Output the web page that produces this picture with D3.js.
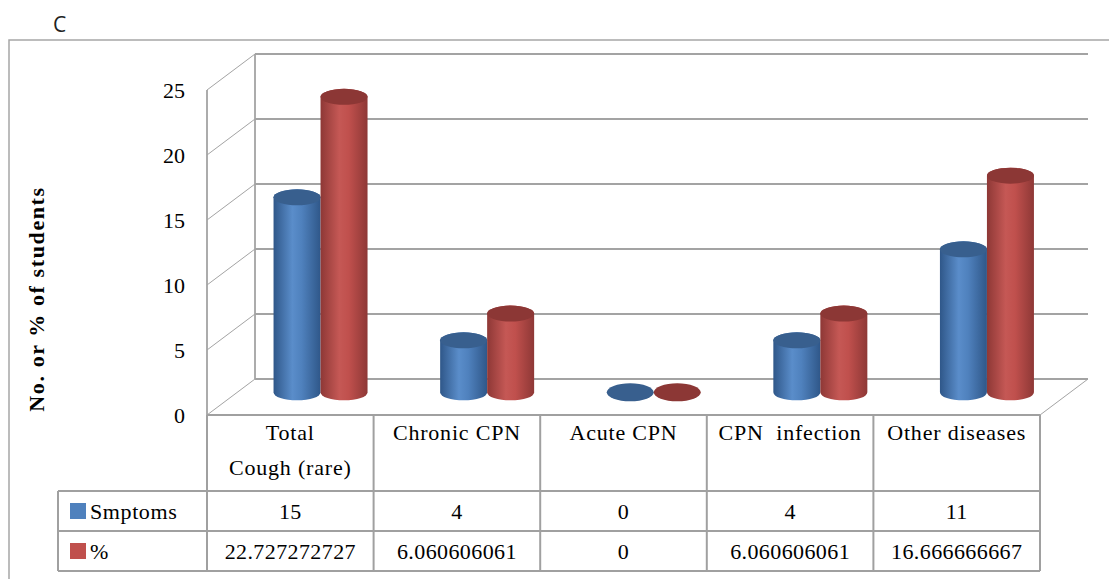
<!DOCTYPE html>
<html>
<head>
<meta charset="utf-8">
<script src="https://cdn.jsdelivr.net/npm/d3@7"></script>
<style>
  html, body { margin: 0; padding: 0; background: #fff; }
  svg { display: block; }
  .serif { font-family: "Liberation Serif", "Times New Roman", serif; fill: #000; }
</style>
</head>
<body>
<svg id="chart" width="1109" height="579"></svg>
<script>
// ---- data ----
const categories = ["Total Cough (rare)", "Chronic CPN", "Acute CPN", "CPN  infection", "Other diseases"];
const categoryLines = [["Total", "Cough (rare)"], ["Chronic CPN"], ["Acute CPN"], ["CPN  infection"], ["Other diseases"]];
const seriesNames = ["Smptoms", "%"];
const symptoms = [15, 4, 0, 4, 11];
const percent = [22.727272727, 6.060606061, 0, 6.060606061, 16.666666667];
const yTicks = [0, 5, 10, 15, 20, 25];
const yTitle = "No. or % of students";
const panelLabel = "C";

// ---- layout ----
const W = 1109, H = 579;
const plot = { left: 207, right: 1040, bottom: 415 };
const depth = { dx: 48, dy: -36 };       // back wall offset from the front plane
const barDepth = 0.63;                   // where the cylinders sit between front and back
const cylW = 47, capRy = 8;
const table = { legendLeft: 58, rowTop: 415, row1: 491, row2: 531, bottom: 571 };

const colors = {
  blue: { dark: "#2f5789", mid: "#4f81bd", light: "#5a8dca", cap: "#385f8e" },
  red:  { dark: "#8e3836", mid: "#c0504d", light: "#c55855", cap: "#8c3735" }
};
const grid = "#a3a3a3";

const svg = d3.select("#chart");
svg.append("rect").attr("width", W).attr("height", H).attr("fill", "#fff");

const x = d3.scaleBand().domain(categories).range([plot.left, plot.right]);
const y = d3.scaleLinear().domain([0, 25]).range([plot.bottom, plot.bottom - 325]);
const inner = d3.scaleBand().domain(seriesNames)
  .range([x.bandwidth() / 2 - cylW, x.bandwidth() / 2 + cylW]);

// ---- gradients for the cylinder bodies ----
const defs = svg.append("defs");
[["blue", colors.blue], ["red", colors.red]].forEach(([k, c]) => {
  const g = defs.append("linearGradient").attr("id", "grad-" + k)
    .attr("x1", "0%").attr("x2", "100%").attr("y1", "0%").attr("y2", "0%");
  g.append("stop").attr("offset", "0%").attr("stop-color", c.dark);
  g.append("stop").attr("offset", "40%").attr("stop-color", c.light);
  g.append("stop").attr("offset", "60%").attr("stop-color", c.mid);
  g.append("stop").attr("offset", "100%").attr("stop-color", c.dark);
});

// ---- outer frame ----
svg.append("path").attr("d", `M9,${H} V40 H${W}`)
  .attr("fill", "none").attr("stroke", "#a6a6a6").attr("stroke-width", 1.5);

// ---- panel label ----
svg.append("text").attr("x", 53).attr("y", 32)
  .attr("font-family", "'Open Sans', 'DejaVu Sans', sans-serif")
  .attr("font-size", 21).attr("fill", "#222").text(panelLabel);

// ---- walls and gridlines ----
const walls = svg.append("g");
const backL = plot.left + depth.dx, backR = plot.right + depth.dx;
// back wall gridlines
walls.selectAll(".gb").data(yTicks).join("line")
  .attr("x1", backL).attr("x2", backR)
  .attr("y1", d => y(d) + depth.dy).attr("y2", d => y(d) + depth.dy)
  .attr("stroke", grid).attr("stroke-width", 1.8);
// side wall gridlines
walls.selectAll(".gs").data(yTicks).join("line")
  .attr("x1", plot.left).attr("y1", d => y(d))
  .attr("x2", backL).attr("y2", d => y(d) + depth.dy)
  .attr("stroke", grid).attr("stroke-width", 1);
// back wall left edge and side wall front edge
walls.append("line").attr("x1", backL).attr("x2", backL)
  .attr("y1", y(25) + depth.dy).attr("y2", y(0) + depth.dy)
  .attr("stroke", grid).attr("stroke-width", 1.8);
walls.append("line").attr("x1", plot.left).attr("x2", plot.left)
  .attr("y1", y(25)).attr("y2", y(0))
  .attr("stroke", grid).attr("stroke-width", 1.8);
// floor right edge
walls.append("line").attr("x1", plot.right).attr("y1", y(0))
  .attr("x2", backR).attr("y2", y(0) + depth.dy)
  .attr("stroke", grid).attr("stroke-width", 1);

// ---- y tick labels ----
svg.append("g").selectAll("text").data(yTicks).join("text")
  .attr("class", "serif")
  .attr("x", 185).attr("y", d => y(d) + 8)
  .attr("text-anchor", "end").attr("font-size", 22)
  .text(d => d);

// ---- y axis title ----
svg.append("text").attr("class", "serif")
  .attr("transform", "translate(44,299) rotate(-90)")
  .attr("text-anchor", "middle").attr("font-size", 22).attr("font-weight", "bold")
  .attr("letter-spacing", 1.6)
  .text(yTitle);

// ---- cylinders ----
const offX = depth.dx * barDepth, offY = depth.dy * barDepth;
function cylinder(x0, w, yTop, yBot) {
  const rx = w / 2;
  return `M${x0},${yTop} V${yBot} A${rx},${capRy} 0 0 0 ${x0 + w},${yBot} V${yTop} A${rx},${capRy} 0 0 0 ${x0},${yTop} Z`;
}
const series = [
  { name: seriesNames[0], values: symptoms, key: "blue" },
  { name: seriesNames[1], values: percent, key: "red" }
];
const bars = svg.append("g");
series.forEach(s => {
  const g = bars.append("g");
  categories.forEach((c, i) => {
    const v = s.values[i];
    const x0 = x(c) + inner(s.name) + offX;
    const yTop = y(v) + offY, yBot = y(0) + offY;
    if (v > 0) {
      g.append("path").attr("d", cylinder(x0, cylW, yTop, yBot))
        .attr("fill", `url(#grad-${s.key})`);
    }
    g.append("ellipse").attr("cx", x0 + cylW / 2).attr("cy", yTop)
      .attr("rx", cylW / 2).attr("ry", v > 0 ? capRy : capRy + 1)
      .attr("fill", colors[s.key].cap);
  });
});

// ---- data table ----
const tb = svg.append("g");
const tline = (x1, y1, x2, y2) => tb.append("line")
  .attr("x1", x1).attr("y1", y1).attr("x2", x2).attr("y2", y2)
  .attr("stroke", "#a0a0a0").attr("stroke-width", 2);
tline(plot.left, table.rowTop, plot.right, table.rowTop);
tline(table.legendLeft, table.row1, plot.right, table.row1);
tline(table.legendLeft, table.row2, plot.right, table.row2);
tline(table.legendLeft, table.bottom, plot.right, table.bottom);
tline(table.legendLeft, table.row1, table.legendLeft, table.bottom);
categories.concat([null]).forEach(c => {
  const xx = c === null ? plot.right : x(c);
  tline(xx, table.rowTop, xx, table.bottom);
});

// category labels
categories.forEach((c, i) => {
  const t = tb.append("text").attr("class", "serif")
    .attr("x", x(c) + x.bandwidth() / 2).attr("y", 440)
    .attr("text-anchor", "middle").attr("font-size", 22)
    .attr("letter-spacing", 0.8).style("white-space", "pre");
  categoryLines[i].forEach((ln, j) => {
    t.append("tspan").attr("x", x(c) + x.bandwidth() / 2)
      .attr("dy", j === 0 ? 0 : 35).text(ln);
  });
});

// legend keys + series names
const rowMid = [(table.row1 + table.row2) / 2, (table.row2 + table.bottom) / 2];
series.forEach((s, k) => {
  tb.append("rect").attr("x", 70).attr("y", rowMid[k] - 8)
    .attr("width", 16).attr("height", 16).attr("fill", colors[s.key].mid);
  tb.append("text").attr("class", "serif")
    .attr("x", 90).attr("y", rowMid[k] + 8).attr("font-size", 22)
    .attr("letter-spacing", 0.6).text(s.name);
  categories.forEach((c, i) => {
    tb.append("text").attr("class", "serif")
      .attr("x", x(c) + x.bandwidth() / 2).attr("y", rowMid[k] + 8)
      .attr("text-anchor", "middle").attr("font-size", 22)
      .attr("letter-spacing", 0.4)
      .text(String(s.values[i]));
  });
});
</script>
</body>
</html>
